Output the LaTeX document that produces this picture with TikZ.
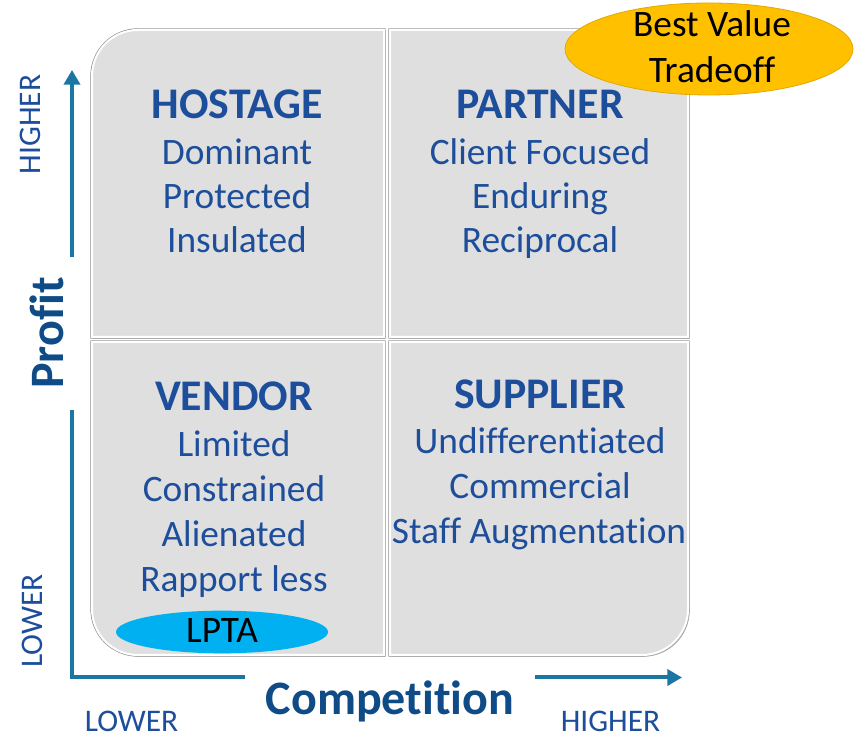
\documentclass[tikz,border=0pt]{standalone}
\usepackage{fontspec}
\setmainfont{Carlito}[Ligatures=NoCommon]
\usetikzlibrary{arrows.meta,shapes.geometric}
\definecolor{qfill}{HTML}{DFDFDF}
\definecolor{qedge}{HTML}{8E8E8E}
\definecolor{qshadow}{HTML}{A8A8A8}
\definecolor{tblue}{HTML}{1D4E9B}
\definecolor{lblue}{HTML}{0F4C87}
\definecolor{acol}{HTML}{1B76A4}
\definecolor{gold}{HTML}{FFC000}
\definecolor{goldedge}{HTML}{E3A800}
\definecolor{cyanc}{HTML}{00B0F0}
\begin{document}
\begin{tikzpicture}[x=0.75pt,y=0.75pt,
  quad/.style={fill=qfill, draw=white, line width=1.5pt,
    preaction={draw=qedge, line width=2.5pt},
    preaction={fill=qshadow, transform canvas={shift={(1.2pt,-1.2pt)}}}},
  ttl/.style={text=tblue, font=\fontsize{32.8}{39}\selectfont\bfseries, anchor=base, inner sep=0pt},
  bod/.style={text=tblue, font=\fontsize{28}{34}\selectfont, anchor=base, inner sep=0pt},
  axisline/.style={draw=acol, line width=3pt},
  axisarrow/.style={axisline, -{Triangle[length=11pt,width=12pt]}},
  axlab/.style={text=lblue, font=\fontsize{36}{43}\selectfont\bfseries, inner sep=0pt},
  lvl/.style={text=tblue, font=\fontsize{23.6}{28}\selectfont, inner sep=0pt},
  blk/.style={text=black, font=\fontsize{28}{34}\selectfont, anchor=base, inner sep=0pt}
]
\useasboundingbox[fill=white] (0,0) rectangle (856,737);

% quadrants
\path[quad] (92,400) -- (92,{707-46}) arc[start angle=180,end angle=90,radius=34.5pt] -- (384,707) -- (384,400) -- cycle;
\path[quad] (390,400) -- (390,707) -- ({688-46},707) arc[start angle=90,end angle=0,radius=34.5pt] -- (688,400) -- cycle;
\path[quad] (92,395) -- (92,{82+46}) arc[start angle=180,end angle=270,radius=34.5pt] -- (384,82) -- (384,395) -- cycle;
\path[quad] (390,395) -- (390,82) -- ({688-46},82) arc[start angle=270,end angle=360,radius=34.5pt] -- (688,395) -- cycle;

% HOSTAGE
\node[ttl] (tl0) at (237,{737-119}) {HOSTAGE};
\node[bod] (tl1) at (237,{737-165}) {Dominant};
\node[bod] (tl2) at (237,{737-209}) {Protected};
\node[bod] (tl3) at (237,{737-253}) {Insulated};
% PARTNER
\node[ttl] (tr0) at (540,{737-119}) {PARTNER};
\node[bod] (tr1) at (540,{737-165}) {Client Focused};
\node[bod] (tr2) at (540,{737-209}) {Enduring};
\node[bod] (tr3) at (540,{737-253}) {Reciprocal};
% VENDOR
\node[ttl] (bl0) at (234,{737-411}) {VENDOR};
\node[bod] (bl1) at (234,{737-457}) {Limited};
\node[bod] (bl2) at (234,{737-502}) {Constrained};
\node[bod] (bl3) at (234,{737-547}) {Alienated};
\node[bod] (bl4) at (234,{737-592}) {Rapport less};
% SUPPLIER
\node[ttl] (br0) at (540,{737-409}) {SUPPLIER};
\node[bod] (br1) at (540,{737-454}) {Undifferentiated};
\node[bod] (br2) at (540,{737-499}) {Commercial};
\node[bod] (br3) at (539,{737-544}) {Staff Augmentation};

% ellipses
\node[ellipse, fill=gold, draw=goldedge, line width=0.6pt, minimum width=216pt, minimum height=69pt, inner sep=0pt] (bv) at (709,688) {};
\node[blk] (bv1) at (712,{737-37}) {Best Value};
\node[blk] (bv2) at (712,{737-83}) {Tradeoff};
\node[ellipse, fill=cyanc, minimum width=159pt, minimum height=32pt, inner sep=0pt] (lp) at (222,105) {};
\node[blk] (lpt) at (222,{737-643}) {LPTA};

% axes
\coordinate (yt1) at (72,480);
\coordinate (yt2) at (72,667);
\coordinate (yb1) at (72,327);
\coordinate (org) at (72,59.5);
\coordinate (xb2) at (245,59.5);
\coordinate (xr1) at (535,59.5);
\coordinate (xr2) at (682,59.5);
\draw[axisarrow] (yt1) -- (yt2);
\draw[axisline, line join=miter] (yb1) -- (org) -- (xb2);
\draw[axisarrow] (xr1) -- (xr2);

% axis labels
\node[axlab, rotate=90] (prof) at (47,404) {Profit};
\node[axlab, anchor=base] (comp) at (390,22) {Competition};
\node[lvl, rotate=90] (yhi) at (30,612.5) {HIGHER};
\node[lvl, rotate=90] (ylo) at (32,116) {LOWER};
\node[lvl, anchor=base] (xlo) at (131.5,5) {LOWER};
\node[lvl, anchor=base] (xhi) at (610.5,5) {HIGHER};
\end{tikzpicture}
\end{document}
